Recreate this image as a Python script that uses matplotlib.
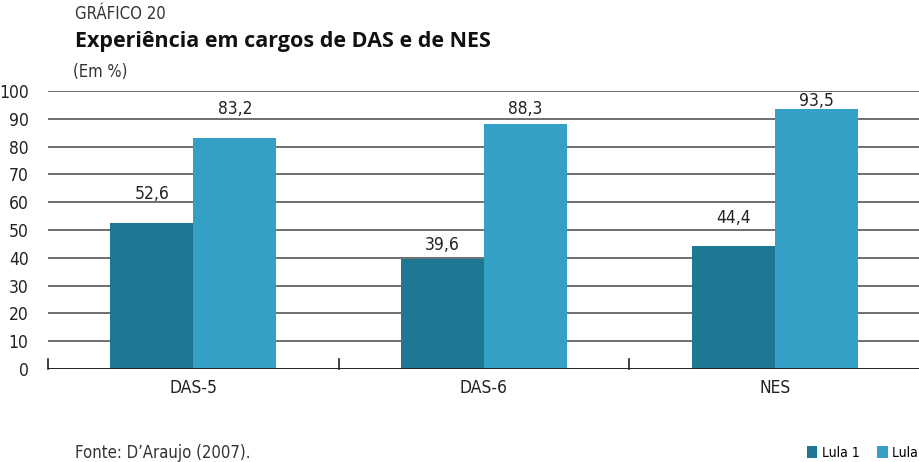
import numpy as np
import matplotlib
matplotlib.use("Agg")
import matplotlib.pyplot as plt

categories = ["DAS-5", "DAS-6", "NES"]
lula1 = [52.6, 39.6, 44.4]
lula2 = [83.2, 88.3, 93.5]
series_names = ["Lula 1", "Lula 2"]
yticks = list(range(0, 101, 10))

# label offsets above bar tops (data units), as placed in the original
off1 = [10.5, 5.0, 10.0]
off2 = [10.2, 5.1, 2.9]

plt.rcParams["font.family"] = ["DejaVu Sans"]
plt.rcParams["font.stretch"] = "condensed"

fig = plt.figure(figsize=(9.2, 4.62), dpi=100)
ax = fig.add_axes([48 / 920, 1 - 369 / 462, 1 - 48 / 920, (369 - 91) / 462])

x = np.arange(len(categories))
w = 0.286
c1, c2 = "#1e7894", "#35a0c6"
b1 = ax.bar(x - w / 2, lula1, w, color=c1, label=series_names[0], zorder=3)
b2 = ax.bar(x + w / 2, lula2, w, color=c2, label=series_names[1], zorder=3)

for bars, vals, offs in ((b1, lula1, off1), (b2, lula2, off2)):
    for r, v, o in zip(bars, vals, offs):
        ax.text(r.get_x() + r.get_width() / 2, v + o, f"{v:.1f}".replace(".", ","),
                ha="center", va="center", fontsize=12.5, color="#222222")

ax.set_xlim(-0.5, len(categories) - 0.5)
ax.set_ylim(0, 100)
ax.set_yticks(yticks)
ax.set_yticklabels([str(t) for t in yticks], fontsize=12.5, color="#222222")
for t in yticks[1:]:
    ax.axhline(t, color="#484848", lw=1.1, zorder=1)
ax.axhline(0, color="#222222", lw=1.4, zorder=4)

ax.set_xticks(x)
ax.set_xticklabels(categories, fontsize=12.5, color="#222222")
ax.tick_params(axis="both", length=0)
ax.tick_params(axis="y", pad=14)
ax.tick_params(axis="x", pad=7)
for b in np.arange(-0.5, len(categories) - 0.5, 1.0):
    ax.plot([b, b], [0, 3.6], color="#222222", lw=1.2, zorder=4, clip_on=False)

for s in ax.spines.values():
    s.set_visible(False)

fig.text(75 / 920, 1 - 14 / 462, "GRÁFICO 20", fontsize=12, color="#333333", va="center")
fig.text(75 / 920, 1 - 42 / 462, "Experiência em cargos de DAS e de NES", fontsize=15.5,
         fontweight="bold", family=["Open Sans", "DejaVu Sans"], fontstretch="normal",
         color="#111111", va="center")
fig.text(73 / 920, 1 - 72 / 462, "(Em %)", fontsize=12, color="#333333", va="center")
fig.text(75 / 920, 1 - 453 / 462, "Fonte: D\u2019Araujo (2007).", fontsize=12, color="#333333", va="center")

fig.legend(handles=[b1, b2], loc="center left", bbox_to_anchor=(800 / 920, 1 - 453 / 462),
           ncol=2, frameon=False, fontsize=10, handlelength=0.75, handleheight=0.9,
           handletextpad=0.3, columnspacing=1.3, borderpad=0)

fig.savefig("out.png", dpi=100)
